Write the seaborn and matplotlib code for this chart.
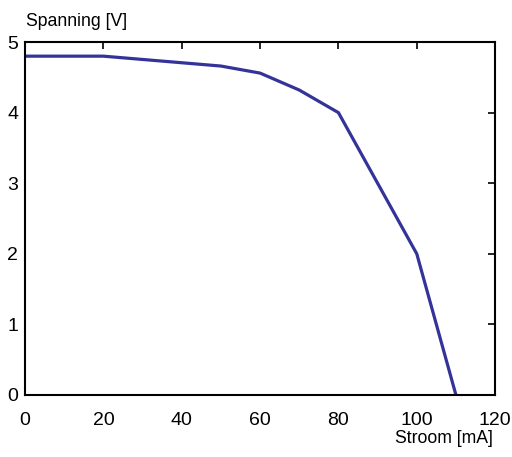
import matplotlib
matplotlib.use("Agg")
import matplotlib.pyplot as plt
import seaborn as sns
import pandas as pd

stroom_ma = [0, 20, 50, 60, 70, 80, 90, 100, 110]
spanning_v = [4.8, 4.8, 4.66, 4.56, 4.32, 4.0, 3.0, 2.0, 0.0]
x_ticks = [0, 20, 40, 60, 80, 100, 120]
y_ticks = [0, 1, 2, 3, 4, 5]

sns.set_theme(style="white")
plt.rcParams['font.family'] = ['Liberation Sans', 'DejaVu Sans']
plt.rcParams['text.color'] = 'black'
plt.rcParams['xtick.color'] = 'black'
plt.rcParams['ytick.color'] = 'black'

df = pd.DataFrame({"Stroom": stroom_ma, "Spanning": spanning_v})

fig = plt.figure(figsize=(5.12, 4.57), dpi=100)
ax = fig.add_axes([0.049, 0.1357, 0.918, 0.7723])
sns.lineplot(data=df, x="Stroom", y="Spanning", ax=ax, color="#33339a", linewidth=2.3, sort=False)

ax.set_xlim(0, 120)
ax.set_ylim(0, 5)
ax.set_xticks(x_ticks)
ax.set_yticks(y_ticks)
ax.tick_params(direction="in", length=5, width=1.2, top=True, right=True,
               labelsize=14, colors="black")
ax.tick_params(axis="x", pad=12)
ax.tick_params(axis="y", pad=5)
for s in ax.spines.values():
    s.set_color("black")
    s.set_linewidth(1.5)
ax.set_xlabel("")
ax.set_ylabel("")
fig.text(0.051, 0.953, "Spanning [V]", fontsize=12.7, ha="left", va="center")
fig.text(0.963, 0.041, "Stroom [mA]", fontsize=12.7, ha="right", va="center")

fig.savefig("out.png", dpi=100)
